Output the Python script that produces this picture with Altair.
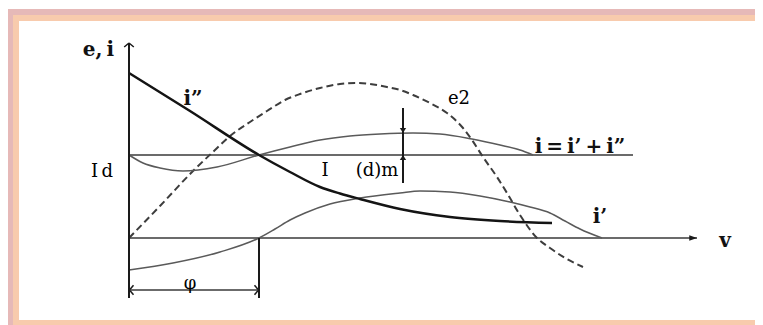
import altair as alt
import pandas as pd

# ---- curve samples (x: phase units, y: amplitude units) ----
# i''  (thick, decaying)
ipp_x = [0.0, 6.1, 13.0, 16.1, 19.1, 21.1, 23.1, 27.1, 32.1, 37.1, 42.3]
ipp_y = [16.5, 12.7, 8.3, 6.6, 5.1, 4.45, 3.9, 2.9, 2.1, 1.7, 1.5]

# i'  (thin, starts negative, crosses zero at phi)
ip_x = [0.0, 4.4, 9.1, 13.0, 14.6, 16.1, 17.6, 20.1, 23.1, 27.1, 29.1, 32.1,
        35.1, 38.1, 40.1, 42.1, 43.6, 45.1, 47.3]
ip_y = [-3.2, -2.5, -1.4, 0.0, 0.9, 1.8, 2.5, 3.4, 4.0, 4.5, 4.7, 4.6,
        4.2, 3.6, 3.1, 2.5, 1.7, 0.9, 0.0]

# i = i' + i''
i_x = [0.0, 1.4, 3.1, 5.4, 8.8, 13.0, 16.1, 19.1, 22.1, 25.1, 28.4, 31.1,
       34.3, 37.1, 39.1, 40.4]
i_y = [8.3, 7.5, 7.0, 6.7, 7.1, 8.3, 9.1, 9.8, 10.2, 10.4, 10.5, 10.4,
       9.9, 9.3, 8.8, 8.3]

# e2 (dashed)
e2_x = [0.0, 3.1, 6.4, 8.6, 10.1, 12.1, 13.8, 15.6, 17.1, 19.1, 21.1, 22.6,
        24.1, 25.8, 27.1, 28.4, 30.1, 31.8, 33.4, 34.3, 35.4, 36.8, 37.8,
        39.1, 40.8, 42.1, 43.6, 45.4]
e2_y = [0.0, 3.2, 6.7, 8.8, 10.2, 11.6, 12.7, 13.8, 14.4, 15.0, 15.4, 15.5,
        15.4, 15.1, 14.8, 14.3, 13.5, 12.5, 11.0, 9.8, 8.1, 6.1, 4.5,
        2.3, 0.0, -1.0, -2.0, -2.9]

# key levels
ID_LEVEL = 8.3        # Id
PHI = 13.0            # phi
I_PEAK = 10.5         # peak of i
MEAS_X = 27.4         # where I(d)m is measured
Y_AXIS = [-6.0, 19.5]
X_AXIS_END = 56.8
ID_LINE_END = 50.4
PHI_ARROW_Y = -5.2
MEAS_SPAN = [5.5, 13.0]

# labels
lab_bold_text = ["e,\u2009i", "i\u201d", "i\u2009=\u2009i\u2019\u2009+\u2009i\u201d", "i\u2019", "v"]
lab_bold_x = [-3.05, 6.4, 45.1, 47.1, 59.6]
lab_bold_y = [18.2, 13.3, 8.5, 1.5, -0.9]

lab_reg_text = ["I\u2009d", "I", "(d)m", "e2", "\u03c6"]
lab_reg_x = [-2.7, 19.6, 24.8, 33.0, 6.1]
lab_reg_y = [6.1, 6.2, 6.2, 13.4, -5.1]

# ---- chart ----
W, H = 747, 317
xs = alt.Scale(domain=[-12.1, 62.6], nice=False, zero=False)
ys = alt.Scale(domain=[-8.7, 23.0], nice=False, zero=False)
FONT = "DejaVu Serif"


def X(f="x"):
    return alt.X(f, type="quantitative", scale=xs, axis=None)


def Y(f="y"):
    return alt.Y(f, type="quantitative", scale=ys, axis=None)


def curve(xv, yv, **kw):
    df = pd.DataFrame({"x": xv, "y": yv})
    return alt.Chart(df).mark_line(interpolate="monotone", **kw).encode(x=X(), y=Y())


# decorative frame (pink + peach bands)
PINK = "#E6B9B8"
PEACH = "#F8CBAD"
frame = [
    alt.Chart(pd.DataFrame({"a": [0]})).mark_rect(color=PINK).encode(
        x=alt.value(0), x2=alt.value(W), y=alt.value(1), y2=alt.value(7)),
    alt.Chart(pd.DataFrame({"a": [0]})).mark_rect(color=PINK).encode(
        x=alt.value(0), x2=alt.value(5), y=alt.value(1), y2=alt.value(H)),
    alt.Chart(pd.DataFrame({"a": [0]})).mark_rect(color=PEACH).encode(
        x=alt.value(5), x2=alt.value(W), y=alt.value(7), y2=alt.value(13)),
    alt.Chart(pd.DataFrame({"a": [0]})).mark_rect(color=PEACH).encode(
        x=alt.value(5), x2=alt.value(11), y=alt.value(7), y2=alt.value(H)),
    alt.Chart(pd.DataFrame({"a": [0]})).mark_rect(color=PEACH).encode(
        x=alt.value(5), x2=alt.value(W), y=alt.value(312), y2=alt.value(H)),
]

# heavy rules: y axis, phi marker, I(d)m measure line
heavy = pd.DataFrame({
    "x": [0.0, PHI, MEAS_X],
    "x2": [0.0, PHI, MEAS_X],
    "y": [Y_AXIS[0], Y_AXIS[0], MEAS_SPAN[0]],
    "y2": [Y_AXIS[1], 0.0, MEAS_SPAN[1]],
})
heavy_rules = alt.Chart(heavy).mark_rule(color="#1a1a1a", strokeWidth=2).encode(
    x=X(), x2="x2", y=Y(), y2="y2")

# light rules: x axis, Id level, phi dimension line
light = pd.DataFrame({
    "x": [0.0, 0.0, 0.15],
    "x2": [X_AXIS_END, ID_LINE_END, PHI - 0.15],
    "y": [0.0, ID_LEVEL, PHI_ARROW_Y],
    "y2": [0.0, ID_LEVEL, PHI_ARROW_Y],
})
light_rules = alt.Chart(light).mark_rule(color="#3a3a3a", strokeWidth=1.5).encode(
    x=X(), x2="x2", y=Y(), y2="y2")

# arrow heads
chevron_up = "M0,0L-1.2,1M0,0L1.2,1"
tri_up = "M0,0L-1,1.6L1,1.6Z"
tri_narrow = "M0,0L-0.7,2L0.7,2Z"


def head(xv, yv, shape, angle, filled, size=64, sw=1.5):
    df = pd.DataFrame({"x": [xv], "y": [yv]})
    return alt.Chart(df).mark_point(
        shape=shape, angle=angle, filled=filled, size=size, opacity=1,
        color="#1a1a1a", strokeWidth=sw).encode(x=X(), y=Y())


heads = [
    head(0.0, Y_AXIS[1], chevron_up, 0, False),
    head(0.05, PHI_ARROW_Y, chevron_up, 270, False),
    head(PHI - 0.05, PHI_ARROW_Y, chevron_up, 90, False),
    head(X_AXIS_END, 0.0, tri_narrow, 90, True, size=60, sw=0.5),
    head(MEAS_X, I_PEAK, tri_up, 180, True, size=40, sw=0.5),
    head(MEAS_X, ID_LEVEL, tri_up, 0, True, size=40, sw=0.5),
]

curves = [
    curve(e2_x, e2_y, color="#3d3d3d", strokeWidth=2, strokeDash=[7, 4]),
    curve(ip_x, ip_y, color="#5a5a5a", strokeWidth=1.5),
    curve(i_x, i_y, color="#5a5a5a", strokeWidth=1.5),
    curve(ipp_x, ipp_y, color="#141414", strokeWidth=2.5),
]

bold_labels = alt.Chart(pd.DataFrame({"t": lab_bold_text, "x": lab_bold_x, "y": lab_bold_y})).mark_text(
    font=FONT, fontSize=20, fontWeight="bold", color="#111111", align="center", baseline="alphabetic"
).encode(x=X(), y=Y(), text="t:N")

reg_labels = alt.Chart(pd.DataFrame({"t": lab_reg_text, "x": lab_reg_x, "y": lab_reg_y})).mark_text(
    font=FONT, fontSize=18, color="#000000", align="center", baseline="alphabetic"
).encode(x=X(), y=Y(), text="t:N")

chart = alt.layer(
    *frame, light_rules, *curves, heavy_rules, *heads, bold_labels, reg_labels
).properties(
    width=W, height=H, padding=0, background="white",
    autosize=alt.AutoSizeParams(type="none")
).configure_view(stroke=None)

chart.save("out.html", embed_options={"renderer": "svg", "actions": False})
